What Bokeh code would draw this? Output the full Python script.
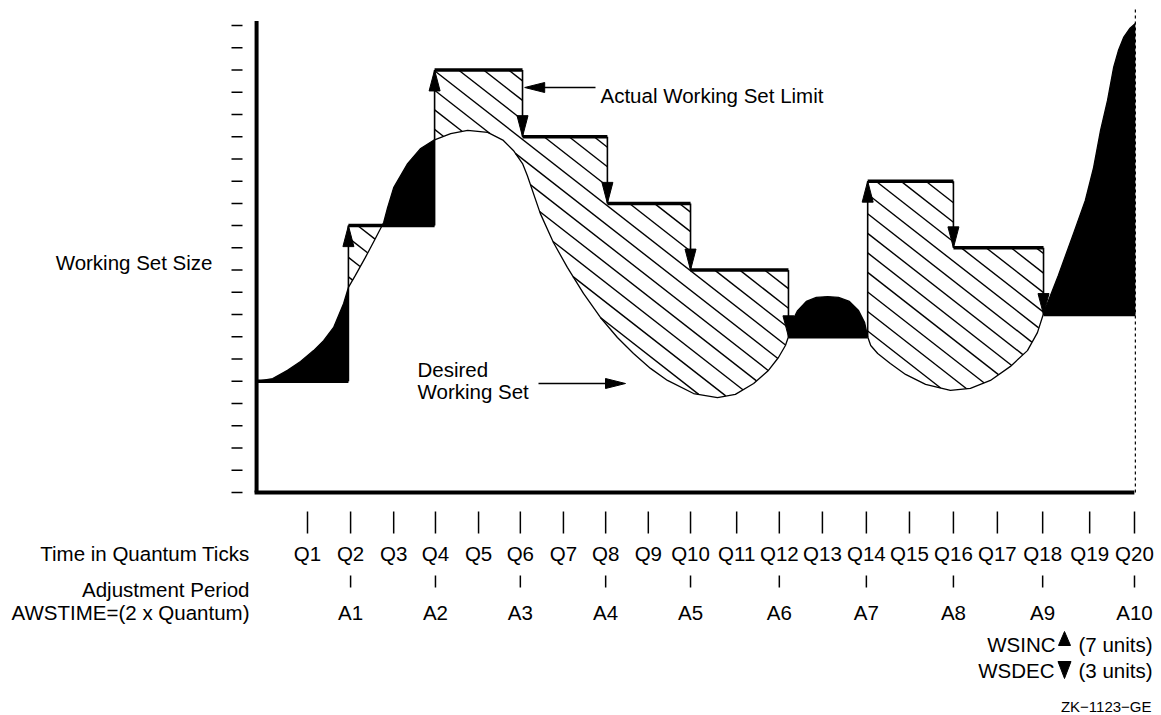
import numpy as np
from bokeh.plotting import figure
from bokeh.core.properties import value
from bokeh.embed import file_html
from bokeh.resources import INLINE

# ---------------- data (time in quanta, size in working-set units) ----------------
q_labels = ["Q1", "Q2", "Q3", "Q4", "Q5", "Q6", "Q7", "Q8", "Q9", "Q10",
            "Q11", "Q12", "Q13", "Q14", "Q15", "Q16", "Q17", "Q18", "Q19", "Q20"]
q_pos = [1.00, 1.99, 2.98, 3.94, 4.93, 5.89, 6.88, 7.85, 8.83, 9.80,
         10.86, 11.84, 12.83, 13.84, 14.83, 15.84, 16.85, 17.89, 18.97, 20.00]
a_labels = ["A1", "A2", "A3", "A4", "A5", "A6", "A7", "A8", "A9", "A10"]
a_pos = [1.99, 3.94, 5.89, 7.85, 9.80, 11.84, 13.84, 15.84, 17.89, 20.00]

# adjustment instants (where the limit changes) and limit levels between them
adjust_t = [1.94, 3.92, 5.94, 7.89, 9.80, 12.05, 13.87, 15.84, 17.91]
end_t = 20.02
limit_levels = [5, 12, 19, 16, 13, 10, 7, 14, 11, 8]

# desired working set curve
desired_t = [-0.17, 0.20, 0.54, 0.84, 1.14, 1.37, 1.60, 1.83, 1.94, 2.10, 2.33, 2.56, 2.75,
             2.84, 2.98, 3.30, 3.60, 3.89, 4.29, 4.68, 5.14, 5.50, 5.73, 5.94, 6.05,
             6.35, 6.65, 6.97, 7.34, 7.73, 8.12, 8.49, 8.88, 9.27, 9.87, 10.42, 10.83,
             11.25, 11.59, 11.82, 11.98,
             12.05, 12.12, 12.26, 12.46, 12.69, 12.95, 13.20, 13.45, 13.66, 13.80, 13.87,
             13.94, 14.10, 14.39, 14.74, 15.20, 15.77, 16.23, 16.69, 17.15, 17.54, 17.77, 17.91,
             18.07, 18.25, 18.60, 18.87, 19.06, 19.22, 19.38, 19.52, 19.63, 19.75, 19.89, 20.02]
desired_u = [5.00, 5.12, 5.49, 5.89, 6.38, 6.83, 7.42, 8.50, 9.22, 9.76, 10.57, 11.42, 12.14,
             12.81, 13.71, 14.79, 15.47, 15.83, 16.14, 16.28, 16.19, 15.83, 15.38, 14.79, 14.25,
             12.54, 11.24, 10.12, 8.95, 7.87, 6.97, 6.25, 5.58, 5.04, 4.45, 4.27, 4.41,
             4.90, 5.49, 6.07, 6.61,
             7.00, 7.64, 8.18, 8.59, 8.77, 8.81, 8.77, 8.59, 8.18, 7.64, 7.00,
             6.61, 6.25, 5.80, 5.31, 4.86, 4.59, 4.68, 5.04, 5.67, 6.38, 7.19, 8.05,
             8.86, 9.76, 11.65, 13.13, 14.61, 16.28, 17.63, 19.11, 19.87, 20.46, 20.86, 21.09]

ws_ticks = list(range(0, 22))

# ---------------- layout constants ----------------
W, H = 1160, 714
PX_X = 43.526   # pixels per quantum
PX_Y = 22.24    # pixels per unit
x0 = 1 - 307 / PX_X
y_top = 492 / PX_Y
FONT = value("Liberation Sans")
FS = "20.5px"


def tx(px):
    return 1 + (px - 307) / PX_X


def uy(py):
    return (492 - py) / PX_Y


p = figure(width=W, height=H, x_range=(x0, x0 + W / PX_X), y_range=(y_top - H / PX_Y, y_top),
           output_backend="svg", toolbar_location=None, x_axis_location=None,
           y_axis_location=None, min_border=0)
p.outline_line_color = None
p.grid.grid_line_color = None
p.background_fill_color = "white"
p.border_fill_color = "white"

# ---------------- fills ----------------
t_arr = np.array(desired_t)
u_arr = np.array(desired_u)
eps = 1e-4
xs = np.concatenate([np.linspace(t_arr[0], t_arr[-1], 4000),
                     np.array(adjust_t) - eps, np.array(adjust_t) + eps, t_arr])
xs = np.sort(xs)
cur = np.interp(xs, t_arr, u_arr)
idx = np.clip(np.searchsorted(adjust_t, xs, side="right"), 0, len(limit_levels) - 1)
lim = np.array(limit_levels, dtype=float)[idx]
top = np.maximum(cur, lim)

# hatch lines (slanted "\" lines clipped to the region between curve and limit)
slope_u = np.tan(np.radians(38)) * PX_X / PX_Y
step_b = 25 / PX_X * slope_u
b_vals = np.arange(3.0, 60.0, step_b)
hxs, hys = [], []
for b in b_vals:
    ul = b - slope_u * xs
    m = (ul > cur) & (ul < lim)
    d = np.diff(m.astype(int))
    starts = list(np.where(d == 1)[0] + 1)
    ends = list(np.where(d == -1)[0])
    if m[0]:
        starts = [0] + starts
    if m[-1]:
        ends = ends + [len(m) - 1]
    for s, e in zip(starts, ends):
        if e > s:
            hxs.append([xs[s], xs[e]])
            hys.append([ul[s], ul[e]])
p.multi_line(hxs, hys, line_color="black", line_width=1.4)

p.varea(x=xs, y1=lim, y2=top, fill_color="black")

# desired curve outline
p.line(t_arr, u_arr, line_color="black", line_width=1.3)

# ---------------- actual working set limit ----------------
seg_x0 = [desired_t[0]] + adjust_t
seg_x1 = adjust_t + [end_t]
p.segment(x0=seg_x0, y0=limit_levels, x1=seg_x1, y1=limit_levels,
          line_color="black", line_width=3.5)
p.segment(x0=adjust_t, y0=limit_levels[:-1], x1=adjust_t, y1=limit_levels[1:],
          line_color="black", line_width=1.6)


def vhead(x, tip, direction, length_px=21, half_px=5.5):
    L = length_px / PX_Y * direction
    hw = half_px / PX_X
    return [x - hw, x, x + hw], [tip - L, tip, tip - L]


def hhead(tip_x, y, direction, length_px=20, half_px=5):
    L = length_px / PX_X * direction
    hh = half_px / PX_Y
    return [tip_x - L, tip_x, tip_x - L], [y - hh, y, y + hh]


hx, hy = [], []
for i, t in enumerate(adjust_t):
    old, new = limit_levels[i], limit_levels[i + 1]
    a, b = vhead(t, new, 1 if new > old else -1)
    hx.append(a)
    hy.append(b)
p.patches(hx, hy, fill_color="black", line_color="black", line_width=1)

# ---------------- axes ----------------
ax_t = desired_t[0]
p.line([ax_t, ax_t], [0, uy(20.5)], line_color="black", line_width=4)
p.line([ax_t - 2 / PX_X, end_t - 1 / PX_X], [0, 0], line_color="black", line_width=4)
p.line([end_t, end_t], [0, uy(6)], line_color="black", line_width=1.2, line_dash="3 3")
p.segment(x0=[tx(231)] * len(ws_ticks), x1=[tx(242)] * len(ws_ticks), y0=ws_ticks, y1=ws_ticks,
          line_color="black", line_width=1.5)

# Q and A ticks
p.segment(x0=q_pos, x1=q_pos, y0=[uy(511)] * len(q_pos), y1=[uy(533)] * len(q_pos),
          line_color="black", line_width=1.5)
p.segment(x0=a_pos, x1=a_pos, y0=[uy(575)] * len(a_pos), y1=[uy(587)] * len(a_pos),
          line_color="black", line_width=1.5)


def txt(x, y, s, align="left", size=FS):
    p.text(x=x if isinstance(x, list) else [x], y=y if isinstance(y, list) else [y],
           text=s if isinstance(s, list) else [s], text_font=FONT, text_font_size=size,
           text_align=align, text_baseline="alphabetic", text_color="black")


u_q = uy(553)
u_a = uy(612)
txt(q_pos, [u_q] * len(q_pos), q_labels, "center")
txt(a_pos, [u_a] * len(a_pos), a_labels, "center")
right_lab = tx(249)
txt(right_lab, u_q, "Time in Quantum Ticks", "right")
txt(right_lab, uy(589), "Adjustment Period", "right")
txt(right_lab, u_a, "AWSTIME=(2 x Quantum)", "right")
txt(tx(212), uy(262), "Working Set Size", "right")

# annotations
note_y = uy(87)
p.line([5.99 + 19 / PX_X, tx(595)], [note_y, note_y], line_color="black", line_width=1.5)
a, b = hhead(5.99, note_y, -1)
p.patch(a, b, fill_color="black", line_color="black")
txt(tx(600), uy(95), "Actual Working Set Limit")

dy = uy(383)
p.line([tx(538), tx(625) - 19 / PX_X], [dy, dy], line_color="black", line_width=1.5)
a, b = hhead(tx(625), dy, 1)
p.patch(a, b, fill_color="black", line_color="black")
txt(tx(417), uy(369), "Desired")
txt(tx(417), uy(391), "Working Set")

# legend for WSINC / WSDEC
u_inc = uy(644)
u_dec = uy(670)
tri_t = tx(1064)
txt(tx(1055), u_inc, "WSINC", "right")
txt(tx(1054), u_dec, "WSDEC", "right")
txt(tx(1078), u_inc, "(7 units)")
txt(tx(1078), u_dec, "(3 units)")
a, b = vhead(tri_t, uy(631), 1, 14, 6)
p.patch(a, b, fill_color="black", line_color="black")
a, b = vhead(tri_t, uy(678), -1, 17, 6.5)
p.patch(a, b, fill_color="black", line_color="black")

txt(tx(1151), uy(706), "ZK\u22121123\u2212GE", "right", "15px")

open("out.html", "w").write(file_html(p, INLINE))
